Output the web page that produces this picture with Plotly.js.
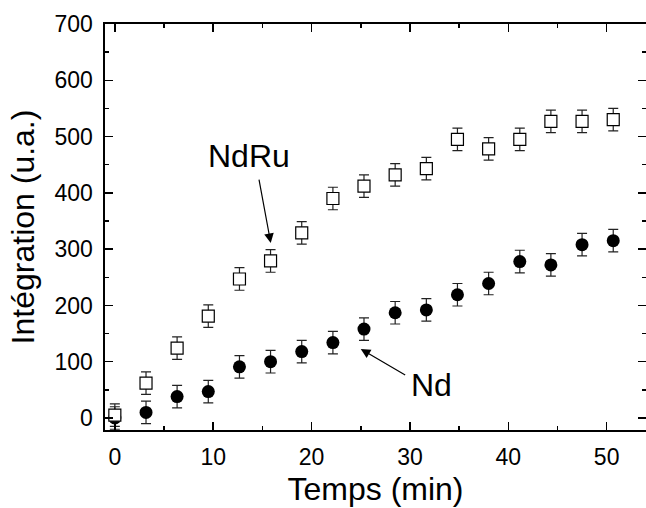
<!DOCTYPE html>
<html>
<head>
<meta charset="utf-8">
<script src="https://cdn.plot.ly/plotly-3.0.1.min.js"></script>
<style>html,body{margin:0;padding:0;background:#fff;}#chart{width:646px;height:508px;}</style>
</head>
<body>
<div id="chart"></div>
<script>
// Time (min) for each measurement
const timeNdRu = [0, 3.17, 6.33, 9.5, 12.67, 15.83, 19, 22.17, 25.33, 28.5, 31.67, 34.83, 38, 41.17, 44.33, 47.5, 50.67];
const valNdRu  = [5, 62, 124, 181, 247, 279, 329, 390, 412, 432, 443, 495, 478, 495, 527, 527, 530];
const errNdRu  = [20, 20, 20, 20, 20, 20, 20, 20, 20, 20, 20, 20, 20, 20, 20, 20, 20];

const timeNd = [0, 3.17, 6.33, 9.5, 12.67, 15.83, 19, 22.17, 25.33, 28.5, 31.67, 34.83, 38, 41.17, 44.33, 47.5, 50.67];
const valNd  = [0, 10, 38, 47, 91, 100, 118, 134, 158, 187, 192, 219, 239, 278, 272, 308, 315];
const errNd  = [20, 20, 20, 20, 20, 20, 20, 20, 20, 20, 20, 20, 20, 20, 20, 20, 20];

const xTicks = [0, 10, 20, 30, 40, 50];
const yTicks = [0, 100, 200, 300, 400, 500, 600, 700];

const FONT = 'Liberation Sans, Arial, Helvetica, sans-serif';

const traces = [
  {
    x: timeNd, y: valNd, name: 'Nd', type: 'scatter', mode: 'markers',
    marker: {symbol: 'circle', size: 13, color: '#000', line: {width: 0}},
    error_y: {type: 'data', array: errNd, visible: true, color: '#222', thickness: 1.2, width: 5}
  },
  {
    x: timeNdRu, y: valNdRu, name: 'NdRu', type: 'scatter', mode: 'markers',
    marker: {symbol: 'square', size: 12, color: '#fff', line: {width: 1.2, color: '#000'}},
    error_y: {type: 'data', array: errNdRu, visible: true, color: '#222', thickness: 1.2, width: 5}
  }
];

const axisCommon = {
  showgrid: false, zeroline: false, showline: true, linecolor: '#000', linewidth: 1.6,
  mirror: 'allticks', ticks: 'inside', ticklen: 8, tickwidth: 1.5, tickcolor: '#000',
  tickfont: {family: FONT, size: 23, color: '#000'}
};

const layout = {
  width: 646, height: 508,
  margin: {l: 105, r: 0, t: 24, b: 78},
  paper_bgcolor: '#fff', plot_bgcolor: '#fff',
  showlegend: false,
  font: {family: FONT, color: '#000'},
  xaxis: Object.assign({}, axisCommon, {
    range: [-1.0, 54.0], tickmode: 'array', tickvals: xTicks, ticktext: xTicks.map(String),
    minor: {dtick: 5, tick0: 0, ticks: 'inside', ticklen: 4, tickwidth: 1.5, tickcolor: '#000'},
    ticklabelstandoff: 6,
    title: {text: 'Temps (min)', font: {family: FONT, size: 32, color: '#000'}, standoff: 8}
  }),
  yaxis: Object.assign({}, axisCommon, {
    range: [-21.3, 700], tickmode: 'array', tickvals: yTicks, ticktext: yTicks.map(String),
    minor: {dtick: 50, tick0: 0, ticks: 'inside', ticklen: 4, tickwidth: 1.5, tickcolor: '#000'},
    ticklabelstandoff: 6,
    title: {text: 'Intégration (u.a.)', font: {family: FONT, size: 32, color: '#000'}, standoff: 10}
  }),
  annotations: [
    {x: 13.6, y: 465, xref: 'x', yref: 'y', text: 'NdRu', showarrow: false,
     font: {family: FONT, size: 32, color: '#000'}},
    {x: 15.85, y: 311, ax: 14.63, ay: 426, xref: 'x', yref: 'y', axref: 'x', ayref: 'y',
     text: '', showarrow: true, arrowhead: 2, arrowsize: 1.6, arrowwidth: 1.2, arrowcolor: '#000', standoff: 0, startstandoff: 0},
    {x: 32.2, y: 59, xref: 'x', yref: 'y', text: 'Nd', showarrow: false,
     font: {family: FONT, size: 32, color: '#000'}},
    {x: 25.0, y: 122.6, ax: 29.67, ay: 75, xref: 'x', yref: 'y', axref: 'x', ayref: 'y',
     text: '', showarrow: true, arrowhead: 2, arrowsize: 1.6, arrowwidth: 1.2, arrowcolor: '#000', standoff: 0, startstandoff: 0}
  ]
};

Plotly.newPlot('chart', traces, layout, {displayModeBar: false, staticPlot: true});
</script>
</body>
</html>
